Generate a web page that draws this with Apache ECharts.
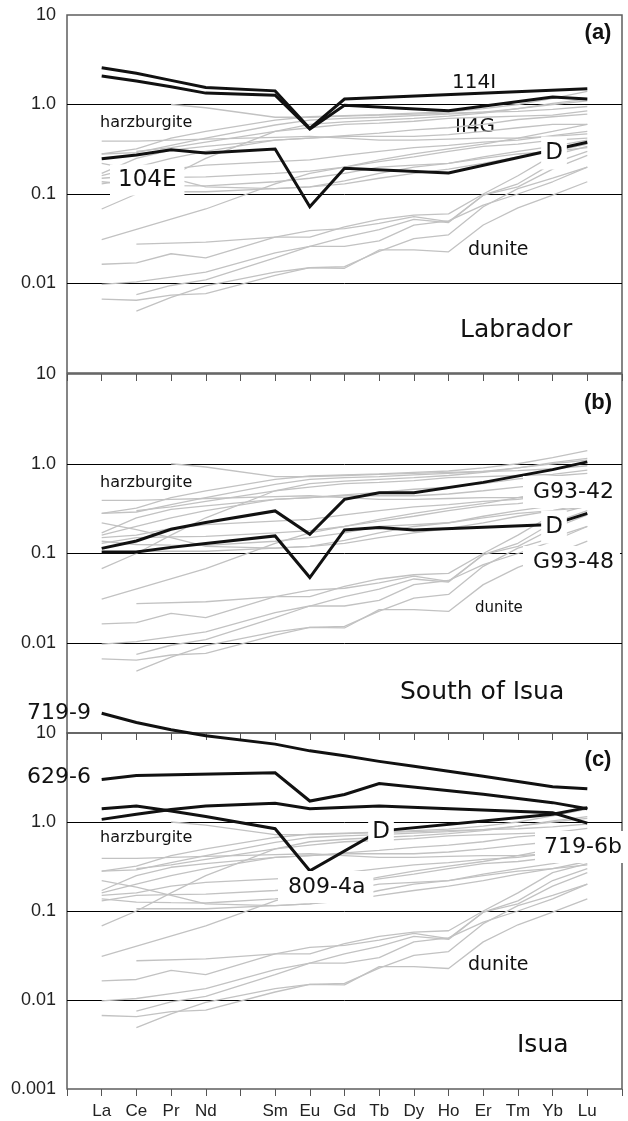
<!DOCTYPE html>
<html>
<head>
<meta charset="utf-8">
<script src="https://cdn.jsdelivr.net/npm/echarts@6/dist/echarts.min.js"></script>
<style>
  html, body { margin: 0; padding: 0; background: #fff; }
  #main { width: 628px; height: 1121px; }
</style>
</head>
<body>
<div id="main"></div>
<script>
// rare earth elements, Pm has a tick but no label / no data
var ree = ['La', 'Ce', 'Pr', 'Nd', '', 'Sm', 'Eu', 'Gd', 'Tb', 'Dy', 'Ho', 'Er', 'Tm', 'Yb', 'Lu'];
var yTickLabels = { '1': '10', '0': '1.0', '-1': '0.1', '-2': '0.01', '-3': '0.001' };

// grey reference field, same in all three panels
var harz1  = [null, null, 1.0, 0.92, null, 0.72, 0.72, 0.74, 0.76, 0.78, 0.8, 0.82, 0.84, 0.88, 0.95];
var harz2  = [0.39, 0.39, 0.4, 0.41, null, 0.43, 0.44, 0.42, 0.40, 0.40, 0.41, 0.42, 0.42, 0.44, 0.47];
var harz3  = [0.28, 0.29, 0.35, 0.42, null, 0.59, 0.67, 0.7, 0.72, 0.75, 0.78, 0.82, 0.9, 1.0, 1.1];
var harz4  = [0.28, 0.32, 0.42, 0.5, null, 0.67, 0.73, 0.75, 0.77, 0.8, 0.83, 0.9, 1.0, 1.17, 1.4];
var harz5  = [0.17, 0.25, 0.31, 0.34, null, 0.4, 0.42, 0.45, 0.48, 0.52, 0.55, 0.6, 0.68, 0.73, 0.78];
var harz6  = [0.22, 0.185, 0.15, 0.12, null, 0.115, 0.12, 0.13, 0.15, 0.17, 0.19, 0.22, 0.26, 0.3, 0.33];
var harz7  = [0.15, 0.16, 0.19, 0.21, null, 0.23, 0.24, 0.27, 0.3, 0.33, 0.35, 0.38, 0.4, 0.45, 0.5];
var harz8  = [0.137, 0.126, 0.124, 0.123, null, 0.137, 0.15, 0.17, 0.2, 0.21, 0.22, 0.25, 0.28, 0.3, 0.36];
var harz9  = [0.13, 0.15, 0.153, 0.155, null, 0.17, 0.18, 0.2, 0.23, 0.26, 0.3, 0.34, 0.36, 0.4, 0.42];
var harz10 = [0.068, 0.1, 0.16, 0.25, null, 0.5, 0.6, 0.64, 0.67, 0.7, 0.74, 0.8, 0.9, 1.03, 1.15];
var harz11 = [null, 0.106, 0.106, 0.106, null, 0.115, 0.12, 0.14, 0.17, 0.2, 0.22, 0.26, 0.3, 0.34, 0.4];
var harz12 = [null, 0.3, 0.33, 0.38, null, 0.5, 0.55, 0.6, 0.62, 0.65, 0.7, 0.72, 0.74, 0.76, 0.85];
var harz13 = [0.16, 0.2, 0.25, 0.3, null, 0.4, 0.42, 0.44, 0.44, 0.44, 0.46, 0.5, 0.55, 0.6, 0.6];

var dun1 = [0.031, null, null, 0.068, null, 0.13, 0.17, 0.2, 0.24, 0.28, 0.32, 0.36, 0.42, 0.5, 0.6];
var dun2 = [null, 0.0276, null, 0.029, null, 0.033, 0.033, 0.043, 0.052, 0.058, 0.06, 0.1, 0.16, 0.27, 0.34];
var dun3 = [0.0164, 0.017, 0.0215, 0.0193, null, 0.033, 0.039, 0.041, 0.047, 0.056, 0.049, 0.097, 0.13, 0.22, 0.3];
var dun4 = [0.0098, 0.0104, 0.0118, 0.0134, null, 0.022, 0.026, 0.026, 0.03, 0.045, 0.05, 0.075, 0.1, 0.137, 0.2];
var dun5 = [null, 0.0075, 0.0095, 0.011, null, 0.0193, 0.026, 0.033, 0.04, 0.052, 0.048, 0.097, 0.12, 0.19, 0.27];
var dun6 = [0.0067, 0.0065, 0.0074, 0.0077, null, 0.0123, 0.015, 0.0148, 0.0237, 0.0237, 0.0226, 0.045, 0.07, 0.097, 0.137];
var dun7 = [null, 0.0049, 0.007, 0.0094, null, 0.0134, 0.015, 0.0154, 0.0228, 0.0318, 0.035, 0.072, 0.115, 0.15, 0.2];

var greyLines = [harz1, harz2, harz3, harz4, harz5, harz6, harz7, harz8, harz9, harz10, harz11, harz12, harz13,
                 dun1, dun2, dun3, dun4, dun5, dun6, dun7];

// (a) Labrador
var s114I = [2.58, 2.23, 1.86, 1.55, null, 1.42, 0.54, 1.15, null, null, null, null, null, null, 1.5];
var sII4G = [2.08, 1.83, 1.58, 1.34, null, 1.27, 0.53, 0.98, null, null, 0.85, null, null, 1.21, 1.15];
var s104E = [0.247, 0.273, 0.313, 0.288, null, 0.318, 0.072, 0.194, null, null, 0.172, null, null, null, 0.378];
// (b) South of Isua
var sG9342 = [0.114, 0.138, 0.186, 0.221, null, 0.298, 0.164, 0.401, 0.476, 0.476, null, 0.62, null, 0.86, 1.05];
var sG9348 = [0.104, 0.104, 0.117, 0.129, null, 0.157, 0.054, 0.183, 0.195, 0.183, null, null, null, 0.21, 0.28];
// (c) Isua
var s7199 = [16.7, 13.1, 10.9, 9.3, null, 7.5, 6.3, 5.55, 4.8, 4.23, 3.72, 3.27, 2.85, 2.49, 2.36];
var s6296 = [3.0, 3.33, null, null, null, 3.57, 1.72, 2.04, 2.71, null, null, 2.05, null, 1.65, 1.41];
var s8094a = [1.41, 1.51, 1.33, 1.15, null, 0.84, 0.283, null, 0.79, null, null, null, null, 1.22, 1.45];
var s7196b = [1.07, 1.22, 1.38, 1.51, null, 1.62, 1.41, null, 1.51, null, null, null, null, 1.27, 0.97];

var panelBlack = [
    [s114I, sII4G, s104E],
    [sG9342, sG9348],
    [s7199, s6296, s8094a, s7196b]
];

function toPts(vals) {
    var out = [];
    for (var i = 0; i < vals.length; i++) {
        if (vals[i] != null) out.push([i + 1, vals[i]]);
    }
    return out;
}

var gridBoxes = [
    { top: 15, height: 358 },
    { top: 374, height: 359 },
    { top: 733, height: 356 }
];

var grid = [], xAxis = [], yAxis = [], series = [];
gridBoxes.forEach(function (g, i) {
    grid.push({
        left: 67, width: 555, top: g.top, height: g.height,
        show: true, borderColor: '#5e5e5e', borderWidth: 1.5, backgroundColor: 'transparent'
    });
    var last = (i === 2);
    // bottom axis
    xAxis.push({
        type: 'value', gridIndex: i, position: 'bottom', min: 0, max: 16, interval: 1,
        axisLine: { show: false },
        splitLine: { show: false },
        axisTick: { show: last, inside: false, length: 7, lineStyle: { color: '#555', width: 1 } },
        axisLabel: {
            show: last, margin: 14, fontSize: 17, color: '#222', fontFamily: 'Liberation Sans',
            formatter: function (v) { return ree[v - 1] || ''; }
        }
    });
    // top axis, ticks pointing in on (b) and (c)
    xAxis.push({
        type: 'value', gridIndex: i, position: 'top', min: 0, max: 16, interval: 1,
        axisLine: { show: false },
        splitLine: { show: false },
        axisTick: { show: i > 0, inside: true, length: 7, lineStyle: { color: '#555', width: 1 } },
        axisLabel: { show: false }
    });
    yAxis.push({
        type: 'log', logBase: 10, gridIndex: i, min: 0.001, max: 10,
        axisLine: { show: false },
        axisTick: { show: false },
        axisLabel: {
            margin: 11, fontSize: 18, color: '#222', fontFamily: 'Liberation Sans',
            showMinLabel: true, showMaxLabel: true,
            formatter: function (v) {
                var e = Math.round(Math.log(v) / Math.LN10);
                if (e === -3 && !last) return '';
                return yTickLabels[String(e)] || '';
            }
        },
        splitLine: { show: true, showMinLine: false, showMaxLine: false, lineStyle: { color: '#000', width: 1 } }
    });

    greyLines.forEach(function (vals) {
        series.push({
            type: 'line', xAxisIndex: 2 * i, yAxisIndex: i, data: toPts(vals),
            symbol: 'none', silent: true, z: 2,
            lineStyle: { color: '#c2c2c2', width: 1.3 }
        });
    });
    panelBlack[i].forEach(function (vals) {
        series.push({
            type: 'line', xAxisIndex: 2 * i, yAxisIndex: i, data: toPts(vals),
            symbol: 'none', silent: true, z: 3, clip: false,
            lineStyle: { color: '#111', width: 3, join: 'miter' }
        });
    });
});

function txt(text, x, y, size, opts) {
    opts = opts || {};
    var st = {
        text: text, fill: '#111',
        font: (opts.bold ? 'bold ' : '') + size + 'px ' + (opts.family || '"DejaVu Sans"'),
        align: opts.align || 'left', verticalAlign: 'middle'
    };
    if (opts.bg) {
        st.backgroundColor = '#fff';
        st.padding = opts.pad || [5, 8];
    }
    return { type: 'text', x: x, y: y, z: opts.z == null ? 100 : opts.z, silent: true, style: st };
}

var panelTag = { bold: true, align: 'center', family: '"Liberation Sans"' };

var graphic = [
    // (a)
    txt('(a)', 598, 33, 22, panelTag),
    txt('114I', 452, 83, 20),
    txt('II4G', 455, 127, 20, { z: 1 }),
    txt('D', 554, 153, 23, { align: 'center', bg: true, pad: [5, 4] }),
    txt('harzburgite', 100, 123, 16),
    txt('104E', 110, 180, 23, { bg: true, pad: [4, 8] }),
    txt('dunite', 468, 250, 19),
    txt('Labrador', 460, 330, 25),
    // (b)
    txt('(b)', 598, 403, 22, panelTag),
    txt('harzburgite', 100, 483, 16),
    txt('G93-42', 523, 492, 22, { bg: true, pad: [5, 6, 5, 10] }),
    txt('D', 554, 527, 23, { align: 'center', bg: true, pad: [5, 4] }),
    txt('G93-48', 523, 562, 22, { bg: true, pad: [5, 6, 5, 10] }),
    txt('dunite', 475, 608, 15),
    txt('South of Isua', 400, 692, 25),
    // (c)
    txt('719-9', 27, 713, 22),
    txt('629-6', 27, 777, 22),
    txt('(c)', 598, 760, 22, panelTag),
    txt('harzburgite', 100, 838, 16),
    txt('D', 381, 832, 23, { align: 'center', bg: true, pad: [5, 4] }),
    txt('809-4a', 278, 887, 22, { bg: true, pad: [5, 8, 5, 10] }),
    txt('719-6b', 535, 847, 22, { bg: true, pad: [5, 3, 5, 9] }),
    txt('dunite', 468, 965, 19),
    txt('Isua', 517, 1045, 25)
];

var chart = echarts.init(document.getElementById('main'));
chart.setOption({
    animation: false,
    backgroundColor: '#fff',
    grid: grid,
    xAxis: xAxis,
    yAxis: yAxis,
    series: series,
    graphic: graphic
});
</script>
</body>
</html>
